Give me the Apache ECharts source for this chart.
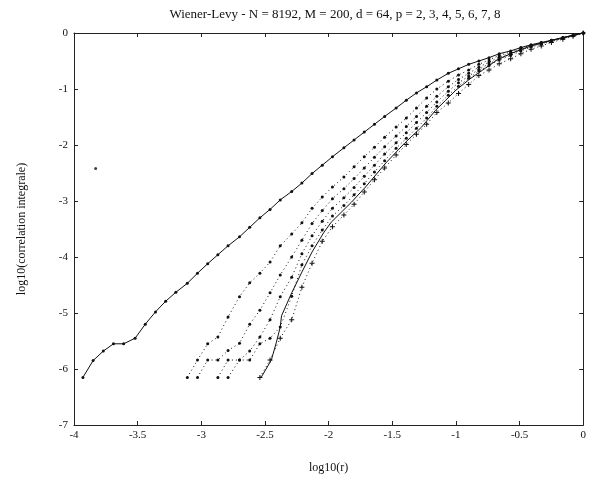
<!DOCTYPE html>
<html>
<head>
<meta charset="utf-8">
<script src="https://cdn.jsdelivr.net/npm/echarts@6/dist/echarts.min.js"></script>
<style>
html,body{margin:0;padding:0;background:#fff;}
#c{width:589px;height:482px;}
</style>
</head>
<body>
<div id="c"></div>
<script>
// log10(r) grid shared by the marked curves
const xGrid = [-3.93,-3.85,-3.77,-3.69,-3.61,-3.52,-3.44,-3.36,-3.28,-3.20,
  -3.11,-3.03,-2.95,-2.87,-2.79,-2.70,-2.62,-2.54,-2.46,-2.38,
  -2.29,-2.21,-2.13,-2.05,-1.97,-1.88,-1.80,-1.72,-1.64,-1.56,
  -1.47,-1.39,-1.31,-1.23,-1.15,-1.06,-0.98,-0.90,-0.82,-0.74,
  -0.66,-0.57,-0.49,-0.41,-0.33,-0.25,-0.16,-0.08,0];

const p2 = [-6.15,-5.85,-5.68,-5.55,-5.55,-5.45,-5.20,-4.98,-4.79,-4.63,
  -4.47,-4.29,-4.12,-3.96,-3.80,-3.64,-3.47,-3.30,-3.15,-2.98,
  -2.83,-2.68,-2.51,-2.36,-2.21,-2.05,-1.91,-1.77,-1.63,-1.49,
  -1.34,-1.20,-1.07,-0.96,-0.84,-0.72,-0.64,-0.56,-0.50,-0.44,
  -0.37,-0.32,-0.26,-0.21,-0.17,-0.13,-0.08,-0.04,0];

const p3 = [null,null,null,null,null,null,null,null,null,null,
  -6.15,-5.84,-5.55,-5.43,-5.07,-4.71,-4.46,-4.29,-4.09,-3.80,
  -3.59,-3.39,-3.13,-2.93,-2.75,-2.57,-2.39,-2.21,-2.04,-1.86,
  -1.68,-1.52,-1.34,-1.16,-1.00,-0.86,-0.75,-0.66,-0.56,-0.48,
  -0.40,-0.34,-0.27,-0.22,-0.17,-0.13,-0.08,-0.04,0];

const p4 = [null,null,null,null,null,null,null,null,null,null,
  null,-6.15,-5.84,-5.84,-5.67,-5.54,-5.20,-4.95,-4.64,-4.32,
  -4.00,-3.70,-3.40,-3.17,-2.96,-2.78,-2.60,-2.41,-2.22,-2.03,
  -1.84,-1.67,-1.49,-1.31,-1.13,-0.96,-0.83,-0.72,-0.61,-0.52,
  -0.43,-0.36,-0.29,-0.23,-0.18,-0.14,-0.09,-0.045,0];

const p5 = [null,null,null,null,null,null,null,null,null,null,
  null,null,null,-6.15,-5.84,-5.84,-5.68,-5.43,-5.12,-4.71,
  -4.36,-3.94,-3.62,-3.36,-3.13,-2.94,-2.76,-2.56,-2.36,-2.16,
  -1.96,-1.78,-1.60,-1.42,-1.23,-1.04,-0.89,-0.77,-0.65,-0.55,
  -0.46,-0.38,-0.30,-0.24,-0.19,-0.14,-0.09,-0.05,0];

const p6 = [null,null,null,null,null,null,null,null,null,null,
  null,null,null,null,-6.15,-5.84,-5.84,-5.55,-5.45,-5.25,
  -4.70,-4.14,-3.80,-3.52,-3.27,-3.08,-2.89,-2.69,-2.48,-2.28,
  -2.06,-1.88,-1.70,-1.52,-1.31,-1.11,-0.95,-0.81,-0.68,-0.58,
  -0.48,-0.40,-0.32,-0.25,-0.20,-0.15,-0.10,-0.05,0];

const p8 = [null,null,null,null,null,null,null,null,null,null,
  null,null,null,null,null,null,null,-6.15,-5.84,-5.45,
  -5.12,-4.54,-4.11,-3.72,-3.46,-3.25,-3.06,-2.84,-2.62,-2.41,
  -2.18,-1.99,-1.81,-1.63,-1.42,-1.25,-1.08,-0.92,-0.76,-0.66,
  -0.55,-0.46,-0.37,-0.29,-0.23,-0.17,-0.11,-0.06,0];

// unmarked solid curve
const p7x = [-2.53,-2.45,-2.41,-2.38,-2.37,-2.29,-2.21,-2.13,-2.04,-1.98,-1.82,-1.71,-1.55,-1.40,-1.27,-1.16,-1.08,-1.00,-0.89,-0.77,-0.67,-0.54,-0.41,-0.26,0];
const p7y = [-6.15,-5.84,-5.52,-5.25,-5.05,-4.64,-4.27,-3.91,-3.57,-3.38,-3.02,-2.75,-2.32,-1.96,-1.68,-1.38,-1.20,-1.02,-0.82,-0.63,-0.47,-0.34,-0.23,-0.14,0];

const strayX = [-3.83];
const strayY = [-2.42];

const xTicks = [-4,-3.5,-3,-2.5,-2,-1.5,-1,-0.5,0];
const yTicks = [-7,-6,-5,-4,-3,-2,-1,0];

const titleText = 'Wiener-Levy - N = 8192, M = 200, d = 64, p = 2, 3, 4, 5, 6, 7, 8';
const xName = 'log10(r)';
const yName = 'log10(correlation integrale)';

function pairs(xs, ys){ const out=[]; for(let i=0;i<xs.length;i++){ if(ys[i]!==null) out.push([xs[i], ys[i]]);} return out; }

const FONT = 'Liberation Serif';
const INK = '#111';
const plus = 'path://M-0.6,-3H0.6V-0.6H3V0.6H0.6V3H-0.6V0.6H-3V-0.6H-0.6Z';

function dottedSeries(ys, sym, size){
  return {type:'line', data:pairs(xGrid, ys), symbol:sym||'circle', symbolSize:size||3, showSymbol:true,
    itemStyle:{color:INK}, lineStyle:{color:INK, width:1, type:[1,3]}, animation:false, z:3};
}

const axisCommon = {
  axisLine:{onZero:false, lineStyle:{color:'#222', width:1}},
  axisTick:{inside:true, length:4, lineStyle:{color:'#222'}},
  splitLine:{show:false}
};

const chart = echarts.init(document.getElementById('c'), null, {renderer:'canvas'});
chart.setOption({
  backgroundColor:'#fff',
  title:{text:titleText, left:330, top:3, textAlign:'center',
    textStyle:{fontFamily:FONT, fontSize:13, fontWeight:'normal', color:INK}},
  grid:{left:74, right:3, top:33, bottom:57},
  xAxis:[
    Object.assign({type:'value', min:xTicks[0], max:xTicks[xTicks.length-1], interval:0.5, position:'bottom',
      name:xName, nameLocation:'middle', nameGap:37,
      nameTextStyle:{fontFamily:FONT, fontSize:12, color:INK},
      axisLabel:{fontFamily:FONT, fontSize:11, color:INK, margin:5}}, axisCommon),
    Object.assign({type:'value', min:xTicks[0], max:xTicks[xTicks.length-1], interval:0.5, position:'top',
      axisLabel:{show:false}}, axisCommon)
  ],
  yAxis:[
    Object.assign({type:'value', min:yTicks[0], max:yTicks[yTicks.length-1], interval:1, position:'left',
      name:yName, nameLocation:'middle', nameGap:46,
      nameTextStyle:{fontFamily:FONT, fontSize:12, color:INK},
      axisLabel:{fontFamily:FONT, fontSize:11, color:INK, margin:6}}, axisCommon),
    Object.assign({type:'value', min:yTicks[0], max:yTicks[yTicks.length-1], interval:1, position:'right',
      axisLabel:{show:false}}, axisCommon)
  ],
  series:[
    {type:'line', data:pairs(xGrid, p2), symbol:'circle', symbolSize:3, itemStyle:{color:INK},
      lineStyle:{color:INK, width:1}, animation:false, z:4},
    dottedSeries(p3),
    dottedSeries(p4),
    dottedSeries(p5),
    dottedSeries(p6),
    {type:'line', data:pairs(p7x, p7y), symbol:'none', lineStyle:{color:INK, width:1}, animation:false, z:4},
    dottedSeries(p8, plus, 5),
    {type:'scatter', data:pairs(strayX, strayY), symbol:'circle', symbolSize:3, itemStyle:{color:INK}, animation:false}
  ]
});
</script>
</body>
</html>
